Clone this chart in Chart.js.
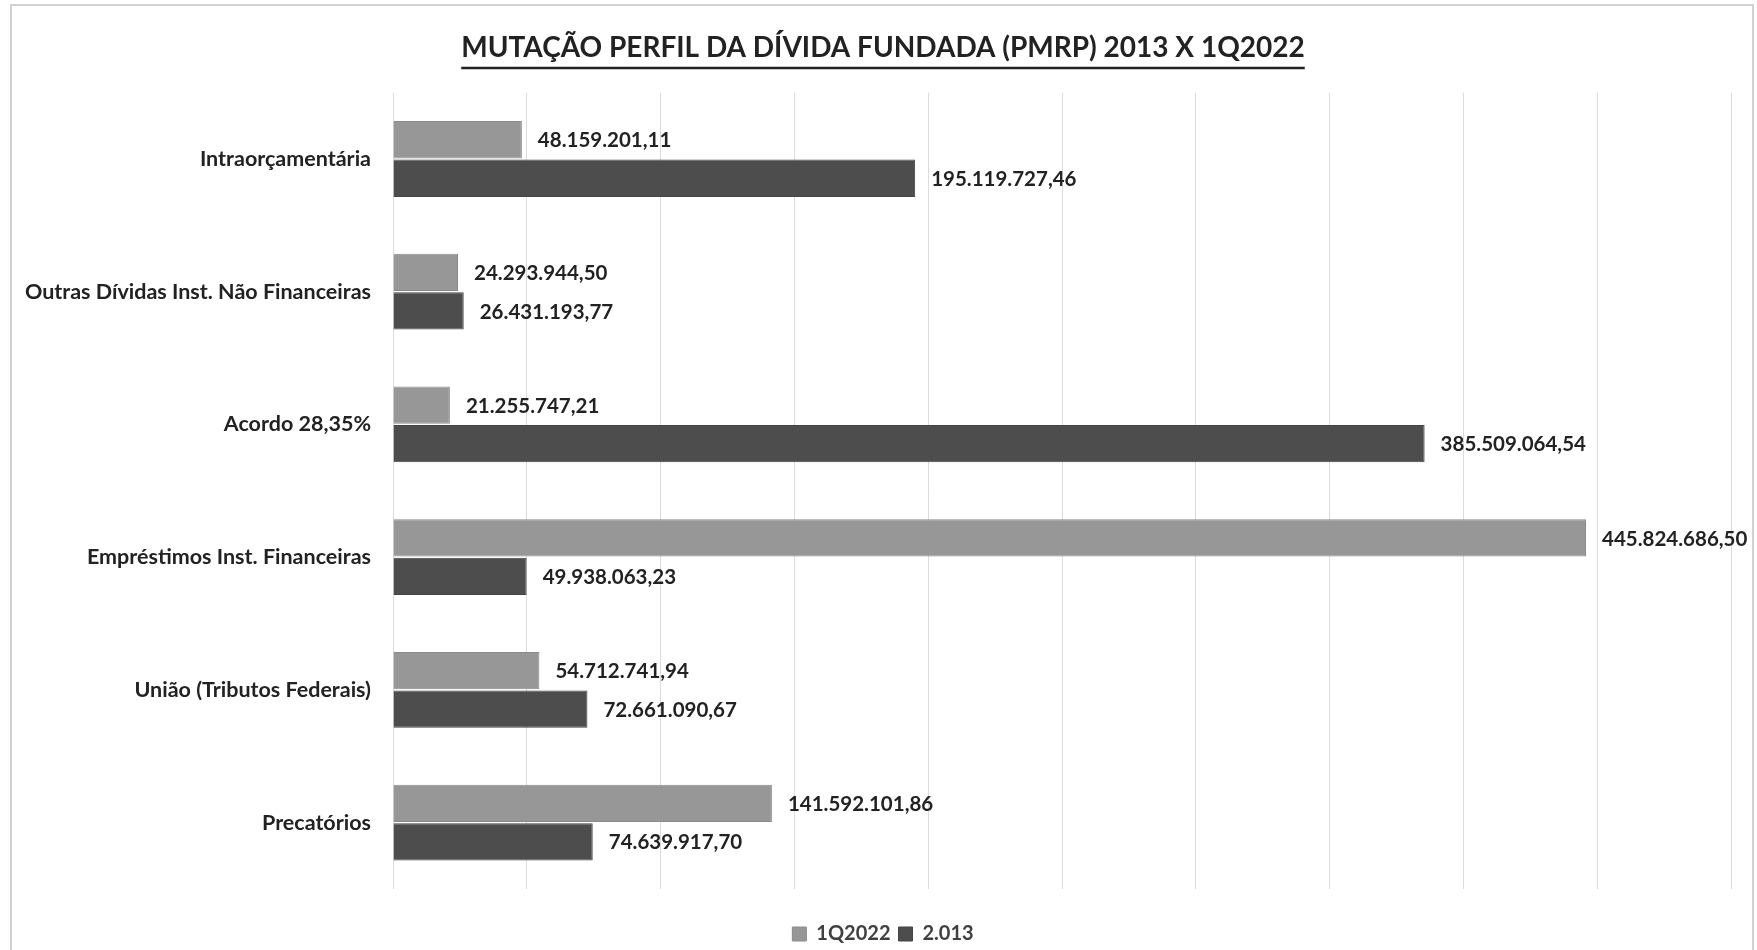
<!DOCTYPE html>
<html lang="pt-BR">
<head>
  <meta charset="UTF-8">
  <title>Mutação Perfil da Dívida Fundada</title>
  <script src="https://cdn.jsdelivr.net/npm/chart.js"></script>
  <style>
    html, body { margin: 0; padding: 0; background: #fff; }
    #wrap { width: 1757px; height: 950px; }
  </style>
</head>
<body>
  <div id="wrap">
    <canvas id="dividaChart"></canvas>
  </div>
  <script>
    // categorias e valores (R$)
    const categorias = [
      'Intraorçamentária',
      'Outras Dívidas Inst. Não Financeiras',
      'Acordo 28,35%',
      'Empréstimos Inst. Financeiras',
      'União (Tributos Federais)',
      'Precatórios'
    ];
    const valores1Q2022 = [48159201.11, 24293944.50, 21255747.21, 445824686.50, 54712741.94, 141592101.86];
    const valores2013 = [195119727.46, 26431193.77, 385509064.54, 49938063.23, 72661090.67, 74639917.70];
    const eixoMax = 500000000;
    const eixoPasso = 50000000;

    const fonte = 'Lato, "Open Sans", sans-serif';

    // formato 1.234.567,89
    function fmt(v) {
      const parts = v.toFixed(2).split('.');
      const inteiro = parts[0].replace(/\B(?=(\d{3})+(?!\d))/g, '.');
      return inteiro + ',' + parts[1];
    }

    // rótulos de valor no fim de cada barra
    const rotulos = {
      id: 'rotulos',
      afterDatasetsDraw(chart) {
        const ctx = chart.ctx;
        ctx.save();
        ctx.font = 'bold 20.5px ' + fonte;
        ctx.fillStyle = '#222222';
        ctx.textAlign = 'left';
        ctx.textBaseline = 'middle';
        chart.data.datasets.forEach((ds, i) => {
          chart.getDatasetMeta(i).data.forEach((bar, j) => {
            ctx.fillText(fmt(ds.data[j]), bar.x + 16, bar.y + 1);
          });
        });
        ctx.restore();
      }
    };

    // sublinhado do título + moldura clara da figura
    const sublinhado = {
      id: 'sublinhado',
      afterDraw(chart) {
        const tb = chart.titleBlock;
        const ctx = chart.ctx;
        ctx.save();
        ctx.strokeStyle = '#d2d2d2';
        ctx.lineWidth = 2;
        ctx.beginPath();
        ctx.moveTo(11, chart.height);
        ctx.lineTo(11, 5);
        ctx.lineTo(1753, 5);
        ctx.lineTo(1753, chart.height);
        ctx.stroke();
        if (tb) {
          ctx.font = 'bold 28px ' + fonte;
          const w = ctx.measureText(chart.options.plugins.title.text).width;
          const cx = tb.left + tb.width / 2;
          const y = 68;
          ctx.strokeStyle = '#222222';
          ctx.lineWidth = 2.5;
          ctx.beginPath();
          ctx.moveTo(cx - w / 2, y);
          ctx.lineTo(cx + w / 2, y);
          ctx.stroke();
        }
        ctx.restore();
      }
    };

    const ctx = document.getElementById('dividaChart').getContext('2d');

    new Chart(ctx, {
      type: 'bar',
      data: {
        labels: categorias,
        datasets: [
          {
            label: '1Q2022',
            data: valores1Q2022,
            backgroundColor: '#979797',
            borderColor: '#8a8a8a',
            borderWidth: 1,
            categoryPercentage: 0.58,
            barPercentage: 0.97
          },
          {
            label: '2.013',
            data: valores2013,
            backgroundColor: '#4d4d4d',
            borderColor: '#444444',
            borderWidth: 1,
            categoryPercentage: 0.58,
            barPercentage: 0.97
          }
        ]
      },
      options: {
        indexAxis: 'y',
        responsive: true,
        maintainAspectRatio: false,
        animation: false,
        layout: {
          padding: { top: 0, right: 15, bottom: -4, left: 24 }
        },
        scales: {
          x: {
            min: 0,
            max: eixoMax,
            ticks: { display: false, stepSize: eixoPasso },
            grid: { color: '#dcdcdc', lineWidth: 1, drawTicks: false },
            border: { display: false },
            afterFit(scale) { scale.height = 27; }
          },
          y: {
            grid: { display: false },
            border: { display: false },
            ticks: {
              color: '#222222',
              padding: 14,
              font: { family: fonte, size: 21.5, weight: 'bold' }
            },
            afterFit(scale) { scale.width = 369; }
          },
          // eixo vazio à direita, só para reservar espaço
          y2: {
            type: 'category',
            position: 'right',
            grid: { display: false },
            border: { display: false },
            ticks: { display: false },
            afterFit(scale) { scale.width = 11; }
          }
        },
        plugins: {
          title: {
            display: true,
            text: 'MUTAÇÃO PERFIL DA DÍVIDA FUNDADA (PMRP) 2013 X 1Q2022',
            color: '#222222',
            font: { family: fonte, size: 28, weight: 'bold', lineHeight: 1.2 },
            padding: { top: 31, bottom: 28 }
          },
          legend: {
            position: 'bottom',
            labels: {
              color: '#404040',
              boxWidth: 14,
              boxHeight: 14,
              padding: 8,
              font: { family: fonte, size: 20, weight: 'bold' }
            }
          },
          tooltip: { enabled: false }
        }
      },
      plugins: [rotulos, sublinhado]
    });
  </script>
</body>
</html>
